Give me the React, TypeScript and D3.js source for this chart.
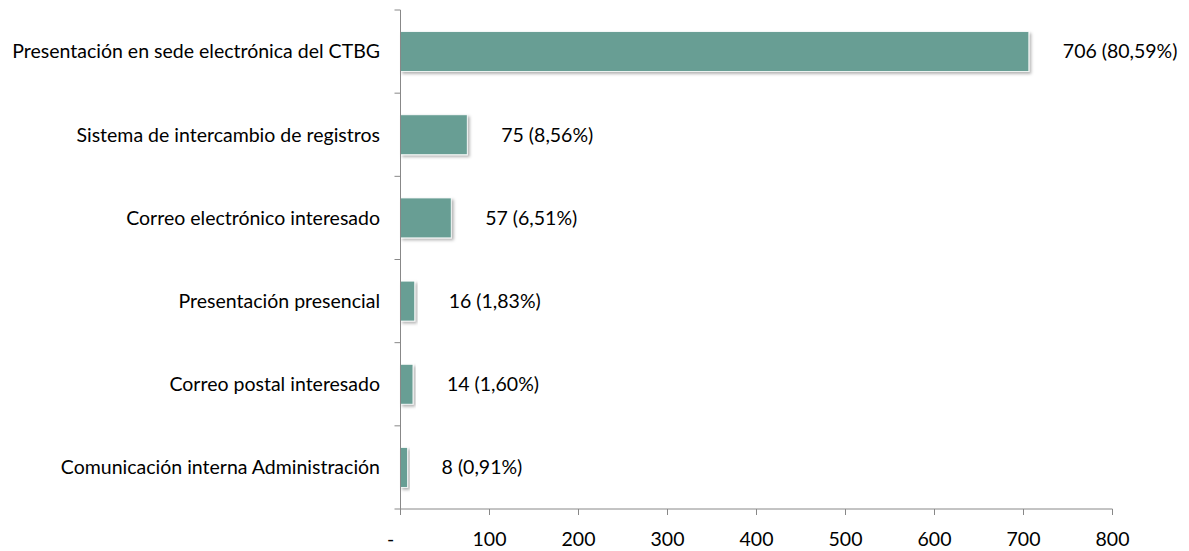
import React from "react";
import * as d3 from "d3";

const categories = [
  "Presentación en sede electrónica del CTBG",
  "Sistema de intercambio de registros",
  "Correo electrónico interesado",
  "Presentación presencial",
  "Correo postal interesado",
  "Comunicación interna Administración",
];
const values = [706, 75, 57, 16, 14, 8];
const labels = ["706 (80,59%)", "75 (8,56%)", "57 (6,51%)", "16 (1,83%)", "14 (1,60%)", "8 (0,91%)"];
const xTicks = [0, 100, 200, 300, 400, 500, 600, 700, 800];

export default function App() {
  const W = 1189, H = 551;
  const x0 = 400.5, x1 = 1112.5, yTop = 10, yBot = 509;
  const x = d3.scaleLinear().domain([0, 800]).range([x0, x1]);
  const y = d3.scaleBand<string>().domain(categories).range([yTop, yBot]).paddingInner(0.52).paddingOuter(0.26);
  const band = (yBot - yTop) / categories.length;
  const font = "Lato, 'Open Sans', sans-serif";
  const fs = 19.5;
  const axisColor = "#888888";
  return (
    <svg width={W} height={H} style={{ position: "absolute", left: 0, top: 0 }} fontFamily={font}>
      <defs>
        <filter id="sh" x="-10%" y="-20%" width="130%" height="160%">
          <feDropShadow dx="2" dy="2" stdDeviation="1.5" floodColor="#000" floodOpacity="0.3" />
        </filter>
      </defs>
      {categories.map((c, i) => (
        <g key={c}>
          <rect
            x={x(0)}
            y={y(c)!}
            width={x(values[i]) - x(0)}
            height={y.bandwidth()}
            fill="#689E94"
            stroke="#ffffff"
            strokeWidth={0.8}
            filter="url(#sh)"
          />
          <text x={x(values[i]) + 34} y={y(c)! + y.bandwidth() / 2} dy="0.35em" fontSize={fs} fill="#000">
            {labels[i]}
          </text>
          <text x={380} y={y(c)! + y.bandwidth() / 2} dy="0.35em" fontSize={fs} fill="#000" textAnchor="end">
            {c}
          </text>
        </g>
      ))}
      <line x1={x0} x2={x0} y1={yTop} y2={yBot} stroke={axisColor} strokeWidth={1} />
      {d3.range(categories.length + 1).map((i) => (
        <line key={i} x1={x0 - 6} x2={x0} y1={yTop + i * band} y2={yTop + i * band} stroke={axisColor} />
      ))}
      <line x1={x0} x2={x1} y1={yBot} y2={yBot} stroke={axisColor} />
      {xTicks.map((t) => (
        <g key={t}>
          <line x1={x(t)} x2={x(t)} y1={yBot} y2={yBot + 6} stroke={axisColor} />
          <text x={t === 0 ? x(t) - 10 : x(t)} y={546} fontSize={fs} textAnchor="middle" fill="#000">
            {t === 0 ? "-" : String(t)}
          </text>
        </g>
      ))}
    </svg>
  );
}
